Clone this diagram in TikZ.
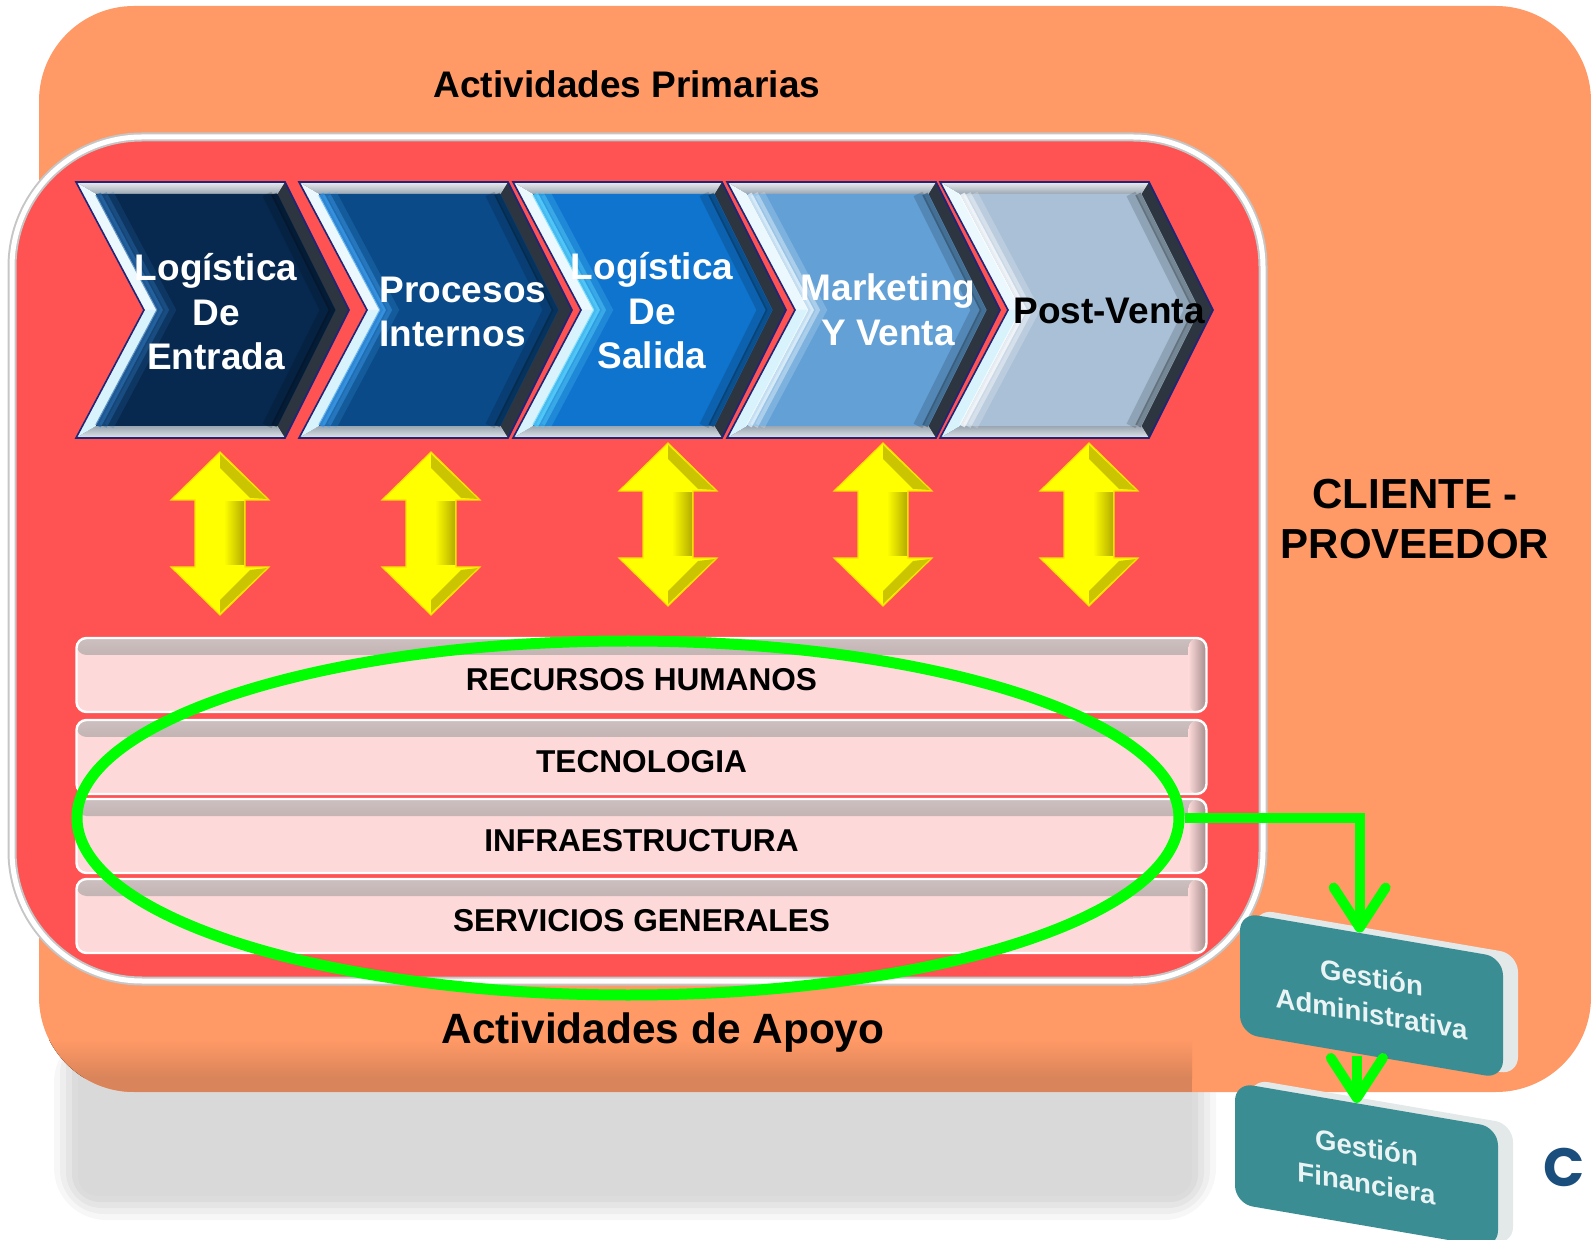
\documentclass[tikz,border=0pt]{standalone}
\usepackage{fontspec}
\setmainfont{Liberation Sans}
\newfontfamily\logofont{Poppins}
\usetikzlibrary{arrows.meta,shapes.geometric}

\definecolor{bgorange}{HTML}{FF9966}
\definecolor{bgorangedark}{HTML}{D9845A}
\definecolor{panelred}{HTML}{FF5252}
\definecolor{ch1}{HTML}{08294F}
\definecolor{ch2}{HTML}{0A4A88}
\definecolor{ch3}{HTML}{0F74CE}
\definecolor{ch4}{HTML}{62A0D6}
\definecolor{ch5}{HTML}{A9C0D6}
\definecolor{gl1}{HTML}{2A6DB0}
\definecolor{gl2}{HTML}{3FA0F0}
\definecolor{gl3}{HTML}{5FD8FF}
\definecolor{gl4}{HTML}{F0FAFF}
\definecolor{gl5}{HTML}{FFFFFF}
\definecolor{bevdark}{HTML}{2C3540}
\definecolor{bevgray}{HTML}{9AA6B2}
\definecolor{barpink}{HTML}{FDD9D9}
\definecolor{barrim}{HTML}{A48C8C}
\definecolor{loopgreen}{HTML}{00FF00}
\definecolor{boxteal}{HTML}{3A8D93}
\definecolor{boxedge}{HTML}{E3E8E8}
\definecolor{arrowyellow}{HTML}{FFFF00}
\definecolor{arrowolive}{HTML}{B4AC00}
\definecolor{logoblue}{HTML}{1A4E7C}
\definecolor{shadowgray}{HTML}{D9D9D9}

\tikzset{
  chev/.pic={
    \fill[bevdark] (0,0) -- (209,0) -- (273,128) -- (209,256) -- (0,256) -- (68,128) -- cycle;
    \fill[top color=white!80!bevgray, bottom color=bevgray] (0,0) -- (209,0) -- (201.6,12) -- (20,12) -- cycle;
    \fill[top color=bevgray, bottom color=white!70!bevgray] (0,256) -- (20,244) -- (201.6,244) -- (209,256) -- cycle;
    \fill[white!92!cyan] (0,0) -- (20,12) -- (81.6,128) -- (68,128) -- cycle;
    \fill[white!85!cyan] (68,128) -- (81.6,128) -- (20,244) -- (0,256) -- cycle;
    \fill[ch#1] (20,12) -- (201.6,12) -- (259.6,128) -- (201.6,244) -- (20,244) -- (81.6,128) -- cycle;
    \draw[gl#1, line width=3pt, opacity=.7] (22,12) -- (83.6,128) -- (22,244);
    \draw[gl#1, line width=4pt, opacity=.4] (27,12) -- (88.6,128) -- (27,244);
    \draw[gl#1, line width=5pt, opacity=.2] (33,12) -- (94.6,128) -- (33,244);
    \draw[black, line width=3pt, opacity=.3] (198,12) -- (256,128) -- (198,244);
    \draw[black, line width=5pt, opacity=.15] (191,12) -- (249,128) -- (191,244);
    \draw[bevdark!70!blue, line width=0.8pt] (0,0) -- (209,0) -- (273,128) -- (209,256) -- (0,256) -- (68,128) -- cycle;
  },
  updown/.pic={
    \fill[arrowyellow, draw=yellow!80!orange, line width=0.6pt] (0,0) -- (49,48) -- (25,48) -- (25,115) -- (49,115) -- (0,163) -- (-49,115) -- (-25,115) -- (-25,48) -- (-49,48) -- cycle;
    \fill[left color=arrowyellow, right color=arrowolive] (4,50) rectangle (24,113);
    \fill[arrowolive!70!arrowyellow] (0,2) -- (47,47) -- (30,46) -- (0,16) -- cycle;
    \fill[arrowolive!70!arrowyellow] (0,161) -- (47,116) -- (30,118) -- (0,148) -- cycle;
  },
  chtext/.style={font=\bfseries\fontsize{18.5}{22.3}\selectfont, align=center, text=white},
  bar/.style={rectangle, rounded corners=5pt, draw=white, line width=1.2pt, fill=barpink,
    minimum width=565pt, minimum height=37pt, text height=15.3pt, text depth=0pt,
    font=\bfseries\fontsize{15.8}{18}\selectfont,
    path picture={
      \fill[top color=barrim!55, bottom color=barrim] (path picture bounding box.north west) rectangle ([yshift=-8.5pt]path picture bounding box.north east);
      \fill[left color=barpink, right color=barrim] ([xshift=-9pt]path picture bounding box.north east) rectangle (path picture bounding box.south east);
    }},
  tealbox/.style={rectangle, rounded corners=9pt, fill=boxteal, minimum width=131.5pt,
    minimum height=60.5pt, transform shape, text=white!90!boxteal, inner sep=0pt,
    font=\bfseries\fontsize{13.8}{18}\selectfont, align=center},
  greenlink/.style={draw=loopgreen, line width=5pt, -{Straight Barb[round, length=20pt, width=26pt]}},
}

\begin{document}
\begin{tikzpicture}[x=0.5pt,y=-0.5pt]
  \useasboundingbox (0,0) rectangle (1591,1240);

  \fill[shadowgray, opacity=.2, rounded corners=26pt] (54,1030) rectangle (1216,1220);
  \fill[shadowgray, opacity=.3, rounded corners=22pt] (60,1030) rectangle (1210,1214);
  \fill[shadowgray, opacity=.45, rounded corners=18pt] (66,1030) rectangle (1204,1208);
  \fill[shadowgray, opacity=.7, rounded corners=14pt] (72,1030) rectangle (1198,1202);
  \fill[shadowgray, rounded corners=10pt] (78,1030) rectangle (1192,1196);

  \fill[bgorange, rounded corners=47.5pt] (39,6) rectangle (1591,1092);
  \begin{scope}
    \clip[rounded corners=47.5pt] (39,6) rectangle (1591,1092);
    \fill[top color=bgorange, bottom color=bgorangedark] (39,1040) rectangle (1192,1078);
    \fill[bgorangedark] (39,1077) rectangle (1192,1092);
  \end{scope}

  \draw[draw=gray!45, line width=4.5pt, fill=panelred, rounded corners=65pt] (12,137) rectangle (1263,981);
  \draw[draw=white, line width=2.5pt, rounded corners=65pt] (12,137) rectangle (1263,981);

  \pic at (76,182) {chev=1};
  \pic at (299,182) {chev=2};
  \pic at (513,182) {chev=3};
  \pic at (727,182) {chev=4};
  \pic at (940,182) {chev=5};

  \node[chtext] (logent) at (216,312) {Logística\\De\\Entrada};
  \node[chtext, align=left] (procint) at (463,312) {Procesos\\Internos};
  \node[chtext] (logsal) at (652,311) {Logística\\De\\Salida};
  \node[chtext] (mkt) at (888,310) {Marketing\\Y Venta};
  \node[chtext, text=black] (postv) at (1109,311) {Post-Venta};

  \pic at (220,452) {updown};
  \pic at (431,452) {updown};
  \pic at (668,443) {updown};
  \pic at (883,443) {updown};
  \pic at (1089,443) {updown};

  \node[bar] (rh) at (641.5,675) {RECURSOS HUMANOS};
  \node[bar] (tec) at (641.5,757) {TECNOLOGIA};
  \node[bar] (infra) at (641.5,836) {INFRAESTRUCTURA};
  \node[bar] (serv) at (641.5,916) {SERVICIOS GENERALES};

  \node[draw=loopgreen, line width=5.5pt, ellipse, inner sep=0pt, minimum width=551pt, minimum height=177pt] (apoyo) at (628,818) {};

  \begin{scope}[shift={(1371.5,995.5)}, yslant=-0.171]
    \node[tealbox, fill=boxedge] (adminback) at (15,-6) {};
    \node[tealbox] (admin) at (0,0) {Gestión\\Administrativa};
  \end{scope}
  \begin{scope}[shift={(1366.5,1165.5)}, yslant=-0.171]
    \node[tealbox, fill=boxedge] (finanback) at (15,-6) {};
    \node[tealbox] (finan) at (0,0) {Gestión\\Financiera};
  \end{scope}

  \draw[greenlink] (apoyo.east) -| (admin.101);
  \draw[greenlink] (finan.99 |- admin.south) -- (finan.99);

  \node[font=\bfseries\fontsize{18.5}{22}\selectfont] (prim) at (627,84) {Actividades Primarias};
  \node[font=\bfseries\fontsize{21}{25}\selectfont, align=center] (cliente) at (1415,519) {CLIENTE -\\PROVEEDOR};
  \node[font=\bfseries\fontsize{21.2}{25}\selectfont] (apoyotxt) at (663,1033) {Actividades de Apoyo};
  \node[font=\logofont\bfseries\fontsize{27}{30}\selectfont, text=logoblue] (logo) at (1564,1167) {C};
\end{tikzpicture}
\end{document}
